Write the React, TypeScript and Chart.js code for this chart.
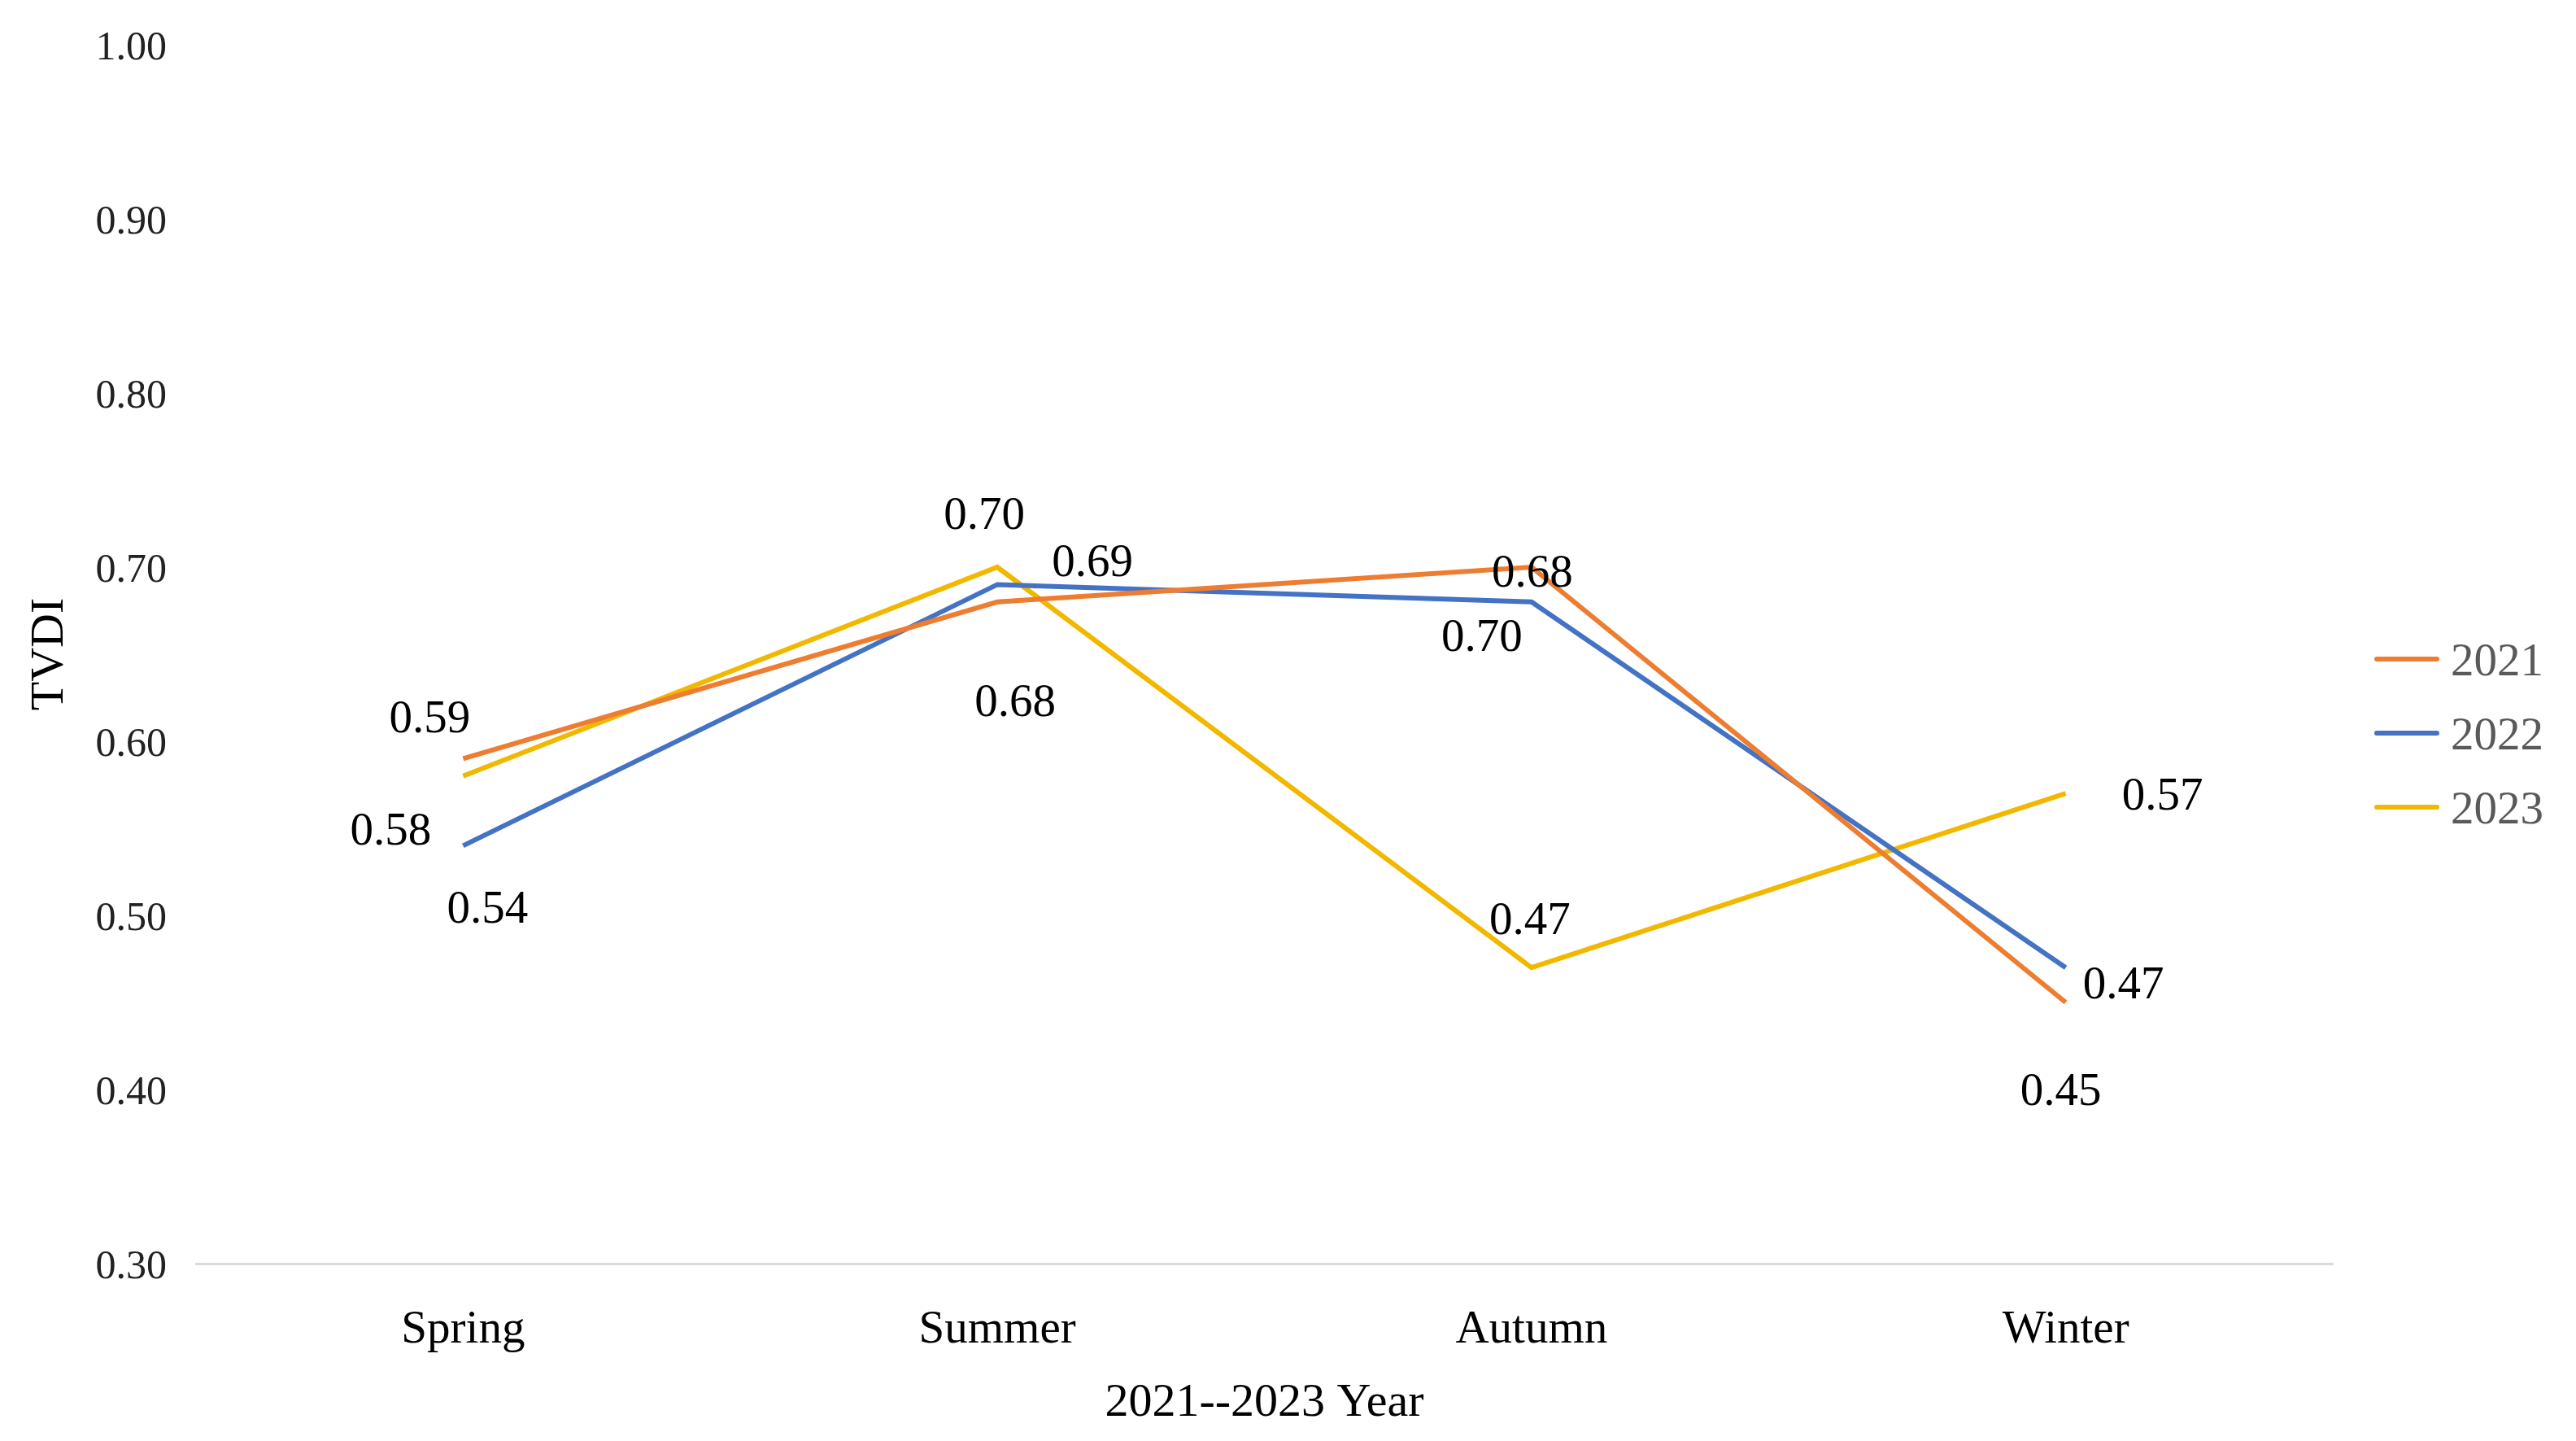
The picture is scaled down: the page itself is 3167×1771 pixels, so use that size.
import React, { useEffect, useRef } from "react";
import { Chart, registerables } from "chart.js";

Chart.register(...registerables);

const categories = ["Spring", "Summer", "Autumn", "Winter"];
const seriesNames = ["2021", "2022", "2023"];
const values2021 = [0.59, 0.68, 0.7, 0.45];
const values2022 = [0.54, 0.69, 0.68, 0.47];
const values2023 = [0.58, 0.7, 0.47, 0.57];
const yTickMin = 0.3;
const yTickMax = 1.0;
const yTickStep = 0.1;
const xTitle = "2021--2023 Year";
const yTitle = "TVDI";

const FONT = '"Liberation Serif", "Times New Roman", serif';
const colors = ["#ED7D31", "#4472C4", "#F2B800"];

// label offsets (pixels from the point) per series, per category — styling only
const labelOffsets = [
  [[-41, -51], [22, 121], [-61, 84], [-6, 107]],
  [[30, 76], [117, -29], [1, -38], [71, 19]],
  [[-89, 65], [-16, -66], [-2, -60], [119, 1]],
];

const dataLabelPlugin = {
  id: "dataLabels",
  afterDatasetsDraw(chart: any) {
    const ctx = chart.ctx;
    ctx.save();
    ctx.font = `57px ${FONT}`;
    ctx.fillStyle = "#000";
    ctx.textAlign = "center";
    ctx.textBaseline = "alphabetic";
    chart.data.datasets.forEach((ds: any, i: number) => {
      const meta = chart.getDatasetMeta(i);
      meta.data.forEach((pt: any, j: number) => {
        const off = labelOffsets[i][j];
        const v = ds.data[j] as number;
        ctx.fillText(v.toFixed(2), pt.x + off[0], pt.y + off[1] + 19);
      });
    });
    ctx.restore();
  },
};

const legendPlugin = {
  id: "customLegend",
  afterDraw(chart: any) {
    const ctx = chart.ctx;
    ctx.save();
    const x0 = chart.chartArea.right + 54;
    const y0 = 810;
    const gap = 91;
    chart.data.datasets.forEach((ds: any, i: number) => {
      const y = y0 + i * gap;
      ctx.strokeStyle = ds.borderColor;
      ctx.lineWidth = 6;
      ctx.lineCap = "round";
      ctx.beginPath();
      ctx.moveTo(x0, y);
      ctx.lineTo(x0 + 74, y);
      ctx.stroke();
      ctx.font = `57px ${FONT}`;
      ctx.fillStyle = "#595959";
      ctx.textAlign = "left";
      ctx.textBaseline = "alphabetic";
      ctx.fillText(ds.label, x0 + 91, y + 20);
    });
    ctx.restore();
  },
};

export default function App() {
  const ref = useRef<HTMLCanvasElement | null>(null);
  useEffect(() => {
    if (!ref.current) return;
    const seriesValues = [values2021, values2022, values2023];
    const chart = new Chart(ref.current, {
      type: "line",
      data: {
        labels: categories,
        datasets: seriesNames.map((name, i) => ({
          label: name,
          data: seriesValues[i],
          borderColor: colors[i],
          backgroundColor: colors[i],
          borderWidth: 6,
          pointRadius: 0,
          tension: 0,
          fill: false,
        })),
      },
      options: {
        animation: false,
        responsive: false,
        devicePixelRatio: 1,
        layout: { padding: { left: 0, top: 55, right: 299, bottom: 0 } },
        plugins: {
          legend: { display: false },
          tooltip: { enabled: false },
        },
        scales: {
          x: {
            offset: true,
            grid: { display: false, drawTicks: false },
            border: { display: true, color: "#D9D9D9", width: 3 },
            ticks: {
              color: "#000",
              font: { family: FONT, size: 57 },
              padding: 48,
              maxRotation: 0,
            },
            title: {
              display: true,
              text: xTitle,
              color: "#000",
              font: { family: FONT, size: 58 },
              padding: { top: 0, bottom: 11 },
            },
            afterFit(scale: any) {
              scale.height = 218;
              scale.paddingLeft = 0;
              scale.paddingRight = 0;
            },
          },
          y: {
            min: yTickMin,
            max: yTickMax,
            grid: { display: false, drawTicks: false },
            border: { display: false },
            ticks: {
              stepSize: yTickStep,
              color: "#222",
              font: { family: FONT, size: 50 },
              padding: 36,
              labelOffset: 5,
              callback: (v: any) => Number(v).toFixed(2),
            },
            title: {
              display: true,
              text: yTitle,
              color: "#000",
              font: { family: FONT, size: 58 },
              padding: { top: 27, bottom: 0 },
            },
            afterFit(scale: any) {
              scale.width = 241;
              scale.paddingTop = 0;
              scale.paddingBottom = 0;
            },
          },
        },
      },
      plugins: [dataLabelPlugin, legendPlugin],
    } as any);
    return () => chart.destroy();
  }, []);
  return (
    <div style={{ position: "fixed", left: 0, top: 0, width: 3167, height: 1771, background: "#fff" }}>
      <canvas ref={ref} width={3167} height={1771} style={{ display: "block", width: 3167, height: 1771 }} />
    </div>
  );
}
